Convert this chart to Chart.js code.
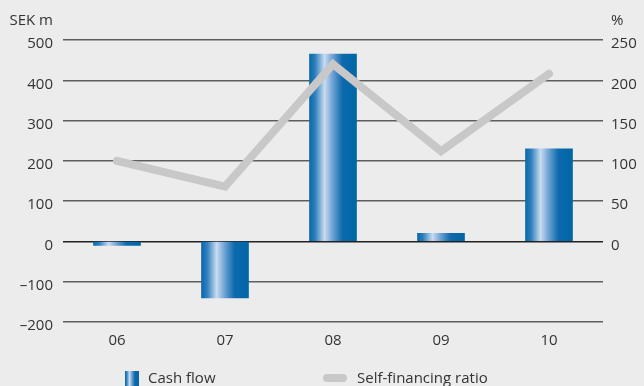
<!DOCTYPE html>
<html>
<head>
<meta charset="utf-8">
<title>Cash flow</title>
<script src="https://cdn.jsdelivr.net/npm/chart.js"></script>
<style>
  html, body { margin: 0; padding: 0; background: #ececec; }
  #wrap { width: 644px; height: 386px; }
</style>
</head>
<body>
<div id="wrap"><canvas id="cashChart"></canvas></div>
<script>
// yearly data
const years = ['06', '07', '08', '09', '10'];
const cashFlow = [-10, -140, 465, 20, 230];          // SEK m
const selfFinancing = [100, 68, 220, 112, 208];      // %

const FONT = '"Open Sans", "DejaVu Sans", sans-serif';
const TEXT = '#333333';
const BAR_W = 47;

// horizontal "tube" gradient across a bar
function tubeGradient(ctx, x0, x1) {
  const g = ctx.createLinearGradient(x0, 0, x1, 0);
  g.addColorStop(0, '#0a68a8');
  g.addColorStop(0.12, '#2f7fbe');
  g.addColorStop(0.32, '#c9dbf0');
  g.addColorStop(0.5, '#6b9fd2');
  g.addColorStop(0.7, '#0d6aac');
  g.addColorStop(1, '#0066a6');
  return g;
}

function barFill(context) {
  const chart = context.chart;
  const xs = chart.scales && chart.scales.x;
  if (!xs || context.dataIndex === undefined) return '#0068a8';
  const cx = xs.getPixelForValue(context.dataIndex);
  if (!isFinite(cx)) return '#0068a8';
  return tubeGradient(chart.ctx, cx - BAR_W / 2, cx + BAR_W / 2);
}

function minus(v) {
  return v < 0 ? '\u2013' + Math.abs(v) : String(v);
}

// axis captions and the legend row under the chart
const extras = {
  id: 'extras',
  afterDraw(chart) {
    const ctx = chart.ctx;
    ctx.save();
    ctx.font = '15px ' + FONT;
    ctx.fillStyle = TEXT;
    ctx.textBaseline = 'middle';
    ctx.textAlign = 'right';
    ctx.fillText('SEK m', 53, 21);
    ctx.textAlign = 'left';
    ctx.fillText('%', 611, 21);

    // cash flow swatch
    ctx.fillStyle = tubeGradient(ctx, 125, 139);
    ctx.fillRect(125, 371, 14, 18);
    ctx.fillStyle = TEXT;
    ctx.fillText(chart.data.datasets[1].label, 148, 379);

    // self-financing swatch
    ctx.strokeStyle = '#c8c8c8';
    ctx.lineWidth = 8;
    ctx.lineCap = 'round';
    ctx.beginPath();
    ctx.moveTo(327, 378);
    ctx.lineTo(343, 378);
    ctx.stroke();
    ctx.fillText(chart.data.datasets[0].label, 357, 379);
    ctx.restore();
  }
};

new Chart(document.getElementById('cashChart'), {
  data: {
    labels: years,
    datasets: [
      {
        type: 'line',
        label: 'Self-financing ratio',
        data: selfFinancing,
        yAxisID: 'y2',
        borderColor: '#c8c8c8',
        borderWidth: 8,
        borderCapStyle: 'round',
        borderJoinStyle: 'miter',
        pointRadius: 0,
        tension: 0,
        order: 0
      },
      {
        type: 'bar',
        label: 'Cash flow',
        data: cashFlow,
        yAxisID: 'y',
        backgroundColor: barFill,
        barThickness: BAR_W,
        order: 1
      }
    ]
  },
  options: {
    responsive: true,
    maintainAspectRatio: false,
    animation: false,
    layout: { padding: { top: 40, left: 0, right: 0, bottom: 0 } },
    plugins: {
      legend: { display: false },
      tooltip: { enabled: false }
    },
    scales: {
      x: {
        grid: { display: false },
        border: { display: false },
        ticks: { color: TEXT, font: { family: FONT, size: 15 }, padding: 2 },
        afterFit(s) { s.height = 64; }
      },
      y: {
        position: 'left',
        min: -200,
        max: 500,
        ticks: {
          stepSize: 100,
          color: TEXT,
          font: { family: FONT, size: 15 },
          padding: 10,
          labelOffset: 4,
          callback: v => minus(v)
        },
        grid: {
          drawTicks: false,
          color: ctx => ctx.tick && ctx.tick.value === 0 ? '#222222' : '#5e5e5e',
          lineWidth: 1.4
        },
        border: { display: false },
        afterFit(s) { s.width = 63; }
      },
      y2: {
        position: 'right',
        min: -100,
        max: 250,
        ticks: {
          stepSize: 50,
          color: TEXT,
          font: { family: FONT, size: 15 },
          padding: 8,
          labelOffset: 4,
          callback: v => (v < 0 ? '' : String(v))
        },
        grid: { display: false, drawTicks: false },
        border: { display: false },
        afterFit(s) { s.width = 41; }
      }
    }
  },
  plugins: [extras]
});
</script>
</body>
</html>
